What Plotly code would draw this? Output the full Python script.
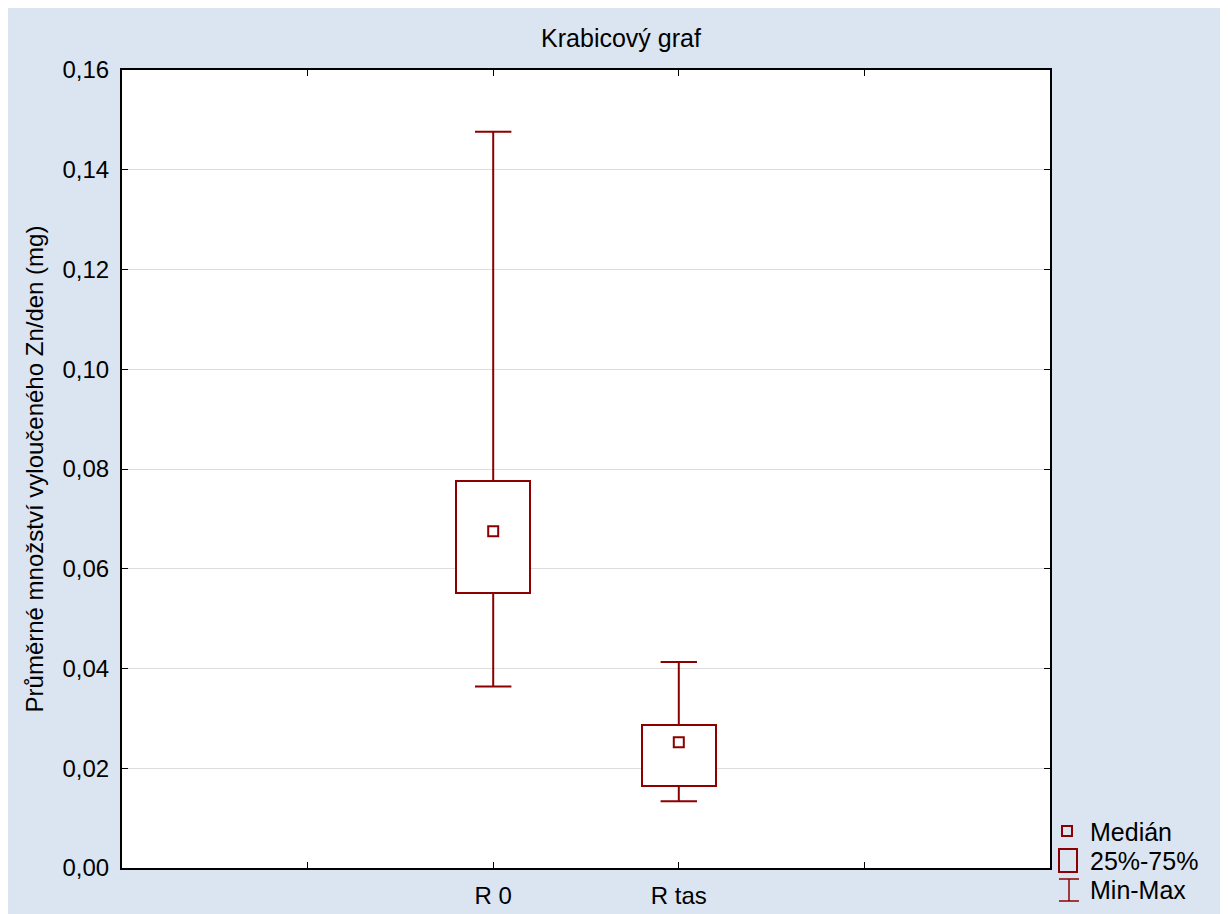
import plotly.graph_objects as go

# ---- data ----
categories = ["R 0", "R tas"]
minimum = [0.0364, 0.0134]
q1 = [0.0551, 0.0164]
median = [0.0675, 0.0252]
q3 = [0.0776, 0.0287]
maximum = [0.1476, 0.0413]
y_ticks = [0.00, 0.02, 0.04, 0.06, 0.08, 0.10, 0.12, 0.14, 0.16]
x_tick_text = [""] + categories + [""]

# ---- style ----
RED = "#8b0000"
BLUE_BG = "#dbe5f1"
FONT = "Arial, Liberation Sans, sans-serif"
OFF = 8  # page body margin
W, H = 1212, 906
ML, MR, MT, MB = 114, 170, 62, 46
PW, PH = W - ML - MR, H - MT - MB

def px(x):  # screen x -> paper
    return (x - OFF - ML) / PW

def py(y):  # screen y -> paper
    return (H - MB - (y - OFF)) / PH

pos = [i + 1 for i in range(len(categories))]
cap_half = 0.098
box_width = 0.40

wx, wy, cx, cy = [], [], [], []
for p, lo, a, b, hi in zip(pos, minimum, q1, q3, maximum):
    wx += [p, p, None, p, p, None]
    wy += [b, hi, None, a, lo, None]
    cx += [p - cap_half, p + cap_half, None, p - cap_half, p + cap_half, None]
    cy += [hi, hi, None, lo, lo, None]

fig = go.Figure()
fig.add_trace(go.Scatter(x=wx, y=wy, mode="lines", line=dict(color=RED, width=2),
                         showlegend=False, hoverinfo="skip"))
fig.add_trace(go.Scatter(x=cx, y=cy, mode="lines", line=dict(color=RED, width=2),
                         showlegend=False, hoverinfo="skip"))
fig.add_trace(go.Bar(x=pos, y=[b - a for a, b in zip(q1, q3)], base=q1, width=box_width,
                     marker=dict(color="white", line=dict(color=RED, width=2)),
                     showlegend=False))
fig.add_trace(go.Scatter(x=pos, y=median, mode="markers",
                         marker=dict(symbol="square-open", size=10, color=RED,
                                     line=dict(color=RED, width=2)),
                         showlegend=False))

shapes = []
# manual legend symbols
shapes.append(dict(type="rect", xref="paper", yref="paper", x0=px(1062), x1=px(1072), y0=py(836), y1=py(826),
                   line=dict(color=RED, width=2), fillcolor="rgba(0,0,0,0)"))
shapes.append(dict(type="rect", xref="paper", yref="paper", x0=px(1059), x1=px(1077), y0=py(872), y1=py(849),
                   line=dict(color=RED, width=2), fillcolor="rgba(0,0,0,0)"))
shapes.append(dict(type="line", xref="paper", yref="paper", x0=px(1069), x1=px(1069), y0=py(901), y1=py(879),
                   line=dict(color=RED, width=1.5)))
shapes.append(dict(type="line", xref="paper", yref="paper", x0=px(1059), x1=px(1079), y0=py(879), y1=py(879),
                   line=dict(color=RED, width=1.5)))
shapes.append(dict(type="line", xref="paper", yref="paper", x0=px(1059), x1=px(1079), y0=py(901), y1=py(901),
                   line=dict(color=RED, width=1.5)))

annotations = []
for label, yc in [("Medián", 832), ("25%-75%", 861), ("Min-Max", 890)]:
    annotations.append(dict(text=label, xref="paper", yref="paper", x=px(1088), y=py(yc),
                            xanchor="left", yanchor="middle", showarrow=False,
                            font=dict(family=FONT, size=25, color="black")))

fig.update_layout(
    width=W, height=H, autosize=False,
    margin=dict(l=ML, r=MR, t=MT, b=MB),
    paper_bgcolor=BLUE_BG, plot_bgcolor="white",
    separators=", ",
    showlegend=False,
    bargap=0,
    title=dict(text="Krabicový graf", xref="container", yref="container",
               x=(621 - OFF) / W, y=1 - (38 - OFF) / H, xanchor="center", yanchor="middle",
               font=dict(family=FONT, size=25, color="black")),
    font=dict(family=FONT, color="black"),
    shapes=shapes,
    annotations=annotations,
)
fig.update_xaxes(range=[-1, 4], tickvals=list(range(len(x_tick_text))), ticktext=x_tick_text,
                 automargin=False,
                 showgrid=False, zeroline=False, showline=True, linecolor="black", linewidth=2,
                 mirror="ticks", ticks="inside", ticklen=6, tickcolor="black", tickwidth=1,
                 tickfont=dict(family=FONT, size=24, color="black"), ticklabelstandoff=5)
fig.update_yaxes(range=[0, 0.16], tickvals=y_ticks, tickformat=".2f",
                 automargin=False,
                 showgrid=True, gridcolor="#dddddd", gridwidth=1, zeroline=False,
                 showline=True, linecolor="black", linewidth=2,
                 mirror="ticks", ticks="inside", ticklen=6, tickcolor="black", tickwidth=1,
                 tickfont=dict(family=FONT, size=24, color="black"), ticklabelstandoff=6,
                 title=dict(text="Průměrné množství vyloučeného Zn/den (mg)",
                            font=dict(family=FONT, size=24, color="black"), standoff=12))

post = "document.body.style.margin='8px 8px 0 8px';"
fig.write_html("out.html", post_script=post)
